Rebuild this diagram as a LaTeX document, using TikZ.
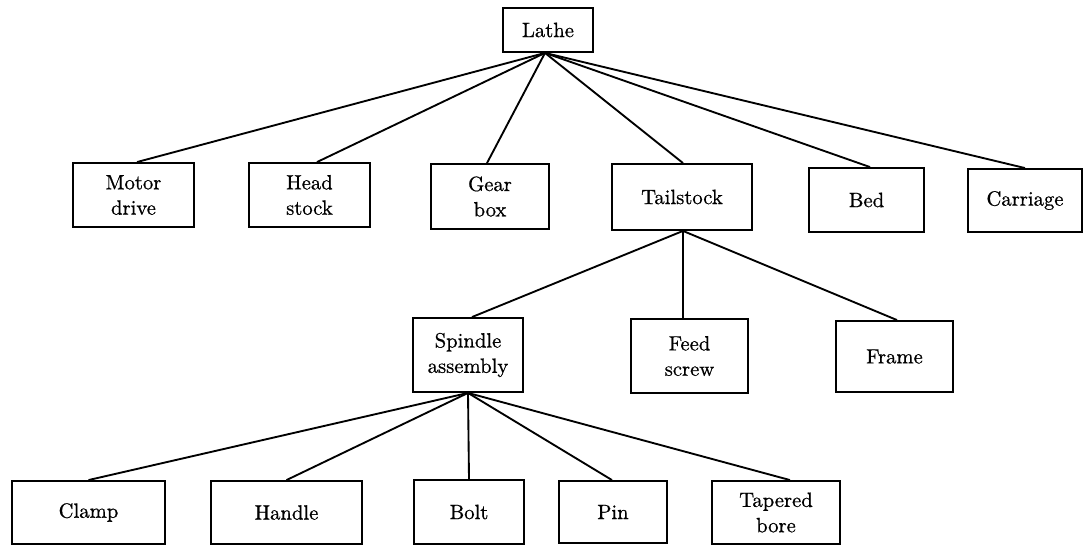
\documentclass[tikz,border=0pt]{standalone}
\usepackage{fontspec}
\usetikzlibrary{calc}
% slightly heavier Latin Modern for the box labels
\newfontfamily\partfont{lmroman10-regular.otf}[FakeBold=0.7]
\begin{document}
\begin{tikzpicture}[x=0.75pt,y=-0.75pt,
  part/.style={draw,line width=1.4pt,rectangle,inner sep=0pt,align=center,
    font=\partfont\fontsize{15.5}{19}\selectfont},
  link/.style={line width=1.4pt}]
\useasboundingbox (0,0) rectangle (1083,549);

% top level
\node[part,minimum width=67.5pt,minimum height=33pt] (lathe) at (548,30) {Lathe};

% main assemblies
\node[part,minimum width=90.75pt,minimum height=48pt] (motor) at (133.5,195) {Motor\\drive};
\node[part,minimum width=90.75pt,minimum height=48pt] (head)  at (309.5,195) {Head\\stock};
\node[part,minimum width=88.5pt,minimum height=48.75pt] (gear) at (490,196.5) {Gear\\box};
\node[part,minimum width=105pt,minimum height=49.5pt] (tail)  at (682,197) {Tailstock};
\node[part,minimum width=86.25pt,minimum height=48pt] (bed)   at (866.5,200) {Bed};
\node[part,minimum width=85.5pt,minimum height=47.25pt] (carr) at (1025,200.5) {Carriage};

% tailstock parts
\node[part,minimum width=82.5pt,minimum height=55.5pt] (spindle) at (468,355) {Spindle\\assembly};
\node[part,minimum width=87.75pt,minimum height=55.5pt] (feed)  at (689.5,356) {Feed\\screw};
\node[part,minimum width=87.75pt,minimum height=53.25pt] (frame) at (894.5,356.5) {Frame};

% spindle assembly parts
\node[part,minimum width=114.75pt,minimum height=47.25pt] (clamp)  at (88.5,512.5) {Clamp};
\node[part,minimum width=113.25pt,minimum height=47.25pt] (handle) at (286.5,512.5) {Handle};
\node[part,minimum width=82.5pt,minimum height=48pt]  (bolt)   at (469,512) {Bolt};
\node[part,minimum width=81pt,minimum height=46.5pt]  (pin)    at (613,512) {Pin};
\node[part,minimum width=96pt,minimum height=47.25pt] (taper)  at (776,512.5) {Tapered\\bore};

% connectors
\coordinate (lathe-out) at ($(lathe.south)+(-3,0)$);
\draw[link] (lathe-out) -- ($(motor.north)+(3.5,0)$);
\draw[link] (lathe-out) -- ($(head.north)+(7.5,0)$);
\draw[link] (lathe-out) -- ($(gear.north)+(-3,0)$);
\draw[link] (lathe-out) -- ($(tail.north)+(1,0)$);
\draw[link] (lathe-out) -- ($(bed.north)+(3.5,0)$);
\draw[link] (lathe-out) -- (carr.north);

\coordinate (tail-out) at ($(tail.south)+(1,0)$);
\draw[link] (tail-out) -- ($(spindle.north)+(4,0)$);
\draw[link] (tail-out) -- (tail-out |- feed.north);
\draw[link] (tail-out) -- ($(frame.north)+(2.5,0)$);

\coordinate (spindle-out) at (spindle.south);
\draw[link] (spindle-out) -- (clamp.north);
\draw[link] (spindle-out) -- (handle.north);
\draw[link] (spindle-out) -- (bolt.north);
\draw[link] (spindle-out) -- ($(pin.north)+(-1,0)$);
\draw[link] (spindle-out) -- ($(taper.north)+(14,0)$);
\end{tikzpicture}
\end{document}
